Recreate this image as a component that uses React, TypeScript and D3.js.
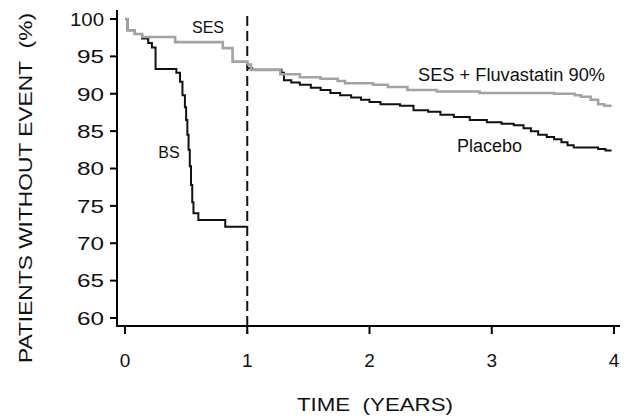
import React from "react";
import * as d3 from "d3";

type Pt = [number, number];

// Years vs % patients without event
const sesData: Pt[] = [
  [0, 100], [0.02, 98.5], [0.08, 98.0], [0.14, 97.6], [0.41, 96.9], [0.8, 96.1], [0.88, 94.3], [1.0, 93.9],
];
const bsData: Pt[] = [
  [0, 100], [0.02, 98.5], [0.08, 98.0], [0.14, 97.4], [0.19, 96.8], [0.22, 96.2], [0.25, 93.3],
  [0.42, 92.8], [0.45, 91.6], [0.47, 89.8], [0.49, 88.2], [0.5, 86.5], [0.51, 84.5], [0.52, 82.5],
  [0.53, 80.3], [0.54, 77.8], [0.55, 75.5], [0.56, 74.0], [0.6, 73.1], [0.82, 72.2], [1.0, 72.2],
];
const fluvaData: Pt[] = [
  [1.0, 93.9], [1.03, 93.2], [1.27, 92.6], [1.43, 92.2], [1.6, 92.0], [1.74, 91.7], [1.8, 91.4],
  [2.03, 91.2], [2.15, 90.9], [2.31, 90.5], [2.55, 90.3], [2.9, 90.1], [3.51, 90.0], [3.68, 89.8],
  [3.73, 89.6], [3.81, 89.2], [3.87, 88.6], [3.92, 88.4], [3.98, 88.4],
];
const placeboData: Pt[] = [
  [1.0, 93.4], [1.04, 93.2], [1.28, 92.8], [1.3, 91.8], [1.36, 91.5], [1.43, 91.2], [1.52, 90.8],
  [1.6, 90.5], [1.68, 90.1], [1.76, 89.8], [1.85, 89.5], [1.93, 89.2], [2.0, 88.9], [2.09, 88.6],
  [2.25, 88.4], [2.36, 87.8], [2.48, 87.6], [2.58, 87.2], [2.69, 86.9], [2.82, 86.5], [2.96, 86.2],
  [3.08, 86.0], [3.18, 85.8], [3.26, 85.4], [3.32, 85.0], [3.38, 84.5], [3.45, 84.2], [3.51, 83.9],
  [3.57, 83.5], [3.62, 83.1], [3.67, 82.8], [3.87, 82.6], [3.93, 82.4], [3.98, 82.4],
];

const xTicks = [0, 1, 2, 3, 4];
const yTicks = [60, 65, 70, 75, 80, 85, 90, 95, 100];
const yLabel = "PATIENTS WITHOUT EVENT\u00A0 (%)";
const xLabel = "TIME\u00A0 (YEARS)";
const seriesLabels = {
  ses: "SES",
  bs: "BS",
  fluva: "SES + Fluvastatin 90%",
  placebo: "Placebo",
};

export default function App() {
  const W = 629, H = 418;
  const x = d3.scaleLinear().domain([0, 4]).range([125, 614]);
  const y = d3.scaleLinear().domain([60, 100]).range([318, 19]);
  const line = d3
    .line<Pt>()
    .x((d) => x(d[0]))
    .y((d) => y(d[1]))
    .curve(d3.curveStepAfter);

  const axisX = 117;
  const axisY = 326;
  const font = "'Liberation Sans', Arial, Helvetica, sans-serif";
  const gray = "#a3a3a3";

  return (
    <svg
      width={W}
      height={H}
      style={{ position: "absolute", left: 0, top: 0, background: "#fff" }}
      fontFamily={font}
    >
      {/* axes */}
      <line x1={axisX} x2={axisX} y1={10} y2={axisY + 1} stroke="#000" strokeWidth={2} />
      <line x1={axisX - 1} x2={620} y1={axisY} y2={axisY} stroke="#000" strokeWidth={2} />
      {yTicks.map((t) => (
        <g key={"y" + t}>
          <line x1={axisX - 7} x2={axisX} y1={y(t)} y2={y(t)} stroke="#000" strokeWidth={2} />
          <text
            x={104}
            y={y(t)}
            dy="0.36em"
            textAnchor="end"
            fontSize={19}
            textLength={t === 100 ? 34 : 27}
            lengthAdjust="spacingAndGlyphs"
            fill="#111"
          >
            {t}
          </text>
        </g>
      ))}
      {xTicks.map((t) => (
        <g key={"x" + t}>
          <line x1={x(t)} x2={x(t)} y1={axisY} y2={axisY + 8} stroke="#000" strokeWidth={2} />
          <text x={x(t)} y={360} dy="0.36em" textAnchor="middle" fontSize={19} fill="#111">
            {t}
          </text>
        </g>
      ))}
      <text
        x={375}
        y={411}
        textAnchor="middle"
        fontSize={19}
        textLength={156}
        lengthAdjust="spacingAndGlyphs"
        fill="#111"
      >
        {xLabel}
      </text>
      <text
        transform={`translate(32,188) rotate(-90)`}
        textAnchor="middle"
        fontSize={19}
        textLength={350}
        lengthAdjust="spacingAndGlyphs"
        fill="#111"
      >
        {yLabel}
      </text>

      {/* dashed landmark at 1 year */}
      <line
        x1={x(1)}
        x2={x(1)}
        y1={16}
        y2={axisY + 8}
        stroke="#111"
        strokeWidth={2}
        strokeDasharray="10,5"
      />

      {/* curves */}
      <path d={line(bsData) || ""} fill="none" stroke="#111" strokeWidth={2} />
      <path d={line(placeboData) || ""} fill="none" stroke="#111" strokeWidth={2} />
      <path d={line(sesData) || ""} fill="none" stroke={gray} strokeWidth={2.6} />
      <path d={line(fluvaData) || ""} fill="none" stroke={gray} strokeWidth={2.6} />

      {/* labels */}
      <text x={208} y={27} dy="0.36em" textAnchor="middle" fontSize={16} fill="#111">
        {seriesLabels.ses}
      </text>
      <text x={169} y={152} dy="0.36em" textAnchor="middle" fontSize={16} fill="#111">
        {seriesLabels.bs}
      </text>
      <text
        x={418}
        y={81}
        fontSize={18}
        textLength={187}
        lengthAdjust="spacingAndGlyphs"
        fill="#111"
      >
        {seriesLabels.fluva}
      </text>
      <text x={457} y={152} fontSize={18} textLength={65} lengthAdjust="spacingAndGlyphs" fill="#111">
        {seriesLabels.placebo}
      </text>
    </svg>
  );
}
